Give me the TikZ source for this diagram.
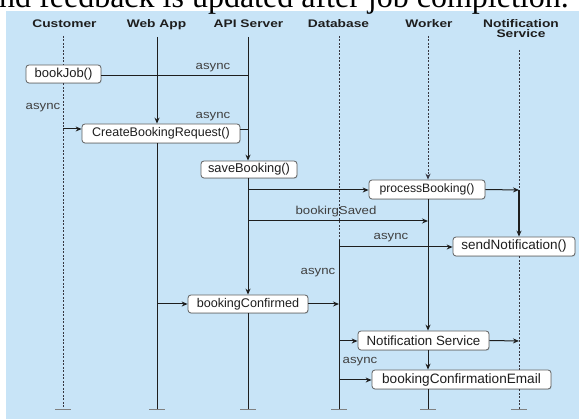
\documentclass[tikz,border=0pt]{standalone}
\usepackage{fontspec}
\setmainfont{Liberation Serif}
\newfontfamily\hdrfont[FakeStretch=1.25]{Liberation Sans}
\newfontfamily\bxfont{Liberation Sans}
\newfontfamily\lblfont[FakeStretch=1.15]{Liberation Sans}
\usetikzlibrary{arrows.meta,shadows}
\definecolor{panel}{RGB}{200,228,247}
\definecolor{ink}{RGB}{30,30,30}
\definecolor{boxline}{RGB}{95,95,95}
\definecolor{dashc}{RGB}{55,55,65}
\newcommand\bxs[1]{\bxfont\fontsize{#1}{#1}\selectfont}
\begin{document}
\begin{tikzpicture}[x=1pt,y=-1pt,
  box/.style={draw=boxline, fill=white, rounded corners=3pt, line width=0.8pt, inner sep=0pt, text=ink,
    drop shadow={opacity=0.2,shadow xshift=0.7pt,shadow yshift=-0.9pt}},
  hdr/.style={font=\hdrfont\bfseries\fontsize{11}{10.5}\selectfont, text=ink, inner sep=0pt, align=center},
  lbl/.style={font=\lblfont\fontsize{11.5}{13}\selectfont, text=ink!85, inner sep=0pt},
  life/.style={draw=ink, line width=1pt},
  dlife/.style={draw=dashc, line width=1pt, dash pattern=on 2pt off 1.5pt},
  ln/.style={draw=ink, line width=1pt},
  msg/.style={draw=ink, line width=1pt, -{Stealth[length=6pt,width=5pt]}},
  tickmark/.style={draw=gray, line width=0.9pt}]
\useasboundingbox (0,0) rectangle (579,419);
\begin{scope}
  \clip (0,0) rectangle (579,419);
  \fill[panel] (6,11) rectangle (579,419);
  \node[anchor=base west, inner sep=0pt, font=\fontsize{32}{36}\selectfont] (cap) at (-1,8) {nd feedback is updated after job completion.};
\end{scope}

% headers
\node[hdr, anchor=base] (hC) at (64.5,28) {Customer};
\node[hdr, anchor=base] (hW) at (156.5,28) {Web App};
\node[hdr, anchor=base] (hA) at (248.5,28) {API Server};
\node[hdr, anchor=base] (hD) at (338.5,28) {Database};
\node[hdr, anchor=base] (hK) at (429,28) {Worker};
\node[hdr, anchor=north] (hN) at (521,19.3) {Notification\\Service};

% lifeline ends
\coordinate (Ct) at (63,36);  \coordinate (Cb) at (63,409);
\coordinate (Wt) at (157,37); \coordinate (Wb) at (157,409);
\coordinate (At) at (248,37); \coordinate (Ab) at (248,409);
\coordinate (Dt) at (339,36); \coordinate (Dm) at (339,240); \coordinate (Db) at (339,409);
\coordinate (Kt) at (428,36); \coordinate (Kb) at (428,409);
\coordinate (Nt) at (519,50); \coordinate (Nb) at (519,409);

% boxes
\node[box, minimum width=75pt, minimum height=18pt, font=\bxs{13}] (BJ) at (63.5,74) {bookJob()};
\node[box, minimum width=158pt, minimum height=19pt, font=\bxs{12.5}] (CBR) at (161,133.5) {CreateBookingRequest()};
\node[box, minimum width=96pt, minimum height=17pt, font=\bxs{12.8}] (SB) at (249,169.5) {saveBooking()};
\node[box, minimum width=116pt, minimum height=19pt, font=\bxs{12.2}] (PB) at (427,189.5) {processBooking()};
\node[box, minimum width=122pt, minimum height=19pt, font=\bxs{13.5}] (SN) at (514,246.5) {sendNotification()};
\node[box, minimum width=120pt, minimum height=18pt, font=\bxs{12.6}] (BC) at (248,304) {bookingConfirmed};
\node[box, minimum width=131pt, minimum height=19pt, font=\bxs{13.3}] (NS) at (423.5,340.5) {Notification Service};
\node[box, minimum width=179pt, minimum height=19pt, font=\bxs{13.6}] (CE) at (461.5,379.5) {bookingConfirmationEmail};

% lifelines
\draw[dlife] (Ct) -- (Ct |- BJ.north);
\draw[dlife] (Ct |- BJ.south) -- (Cb);
\draw[msg] (Wt) -- (Wt |- CBR.north);
\draw[life] (Wt |- CBR.south) -- (Wb);
\draw[msg] (At) -- (At |- SB.north);
\draw[msg] (At |- SB.south) -- (At |- BC.north);
\draw[life] (At |- BC.south) -- (Ab);
\draw[dlife] (Dt) -- (Dm);
\draw[life] (Dm) -- (Db);
\draw[dlife, -{Stealth[length=6pt,width=5pt]}] (Kt) -- (Kt |- PB.north);
\draw[msg] (Kt |- PB.south) -- (Kt |- NS.north);
\draw[msg] (Kt |- NS.south) -- (Kt |- CE.north);
\draw[life] (Kt |- CE.south) -- (Kb);
\coordinate (nJ) at (519,190);
\draw[dlife] (Nt) -- (nJ);
\draw[msg, line width=1.5pt] (nJ) -- (nJ |- SN.north);
\draw[dlife] (Nt |- SN.south) -- (Nt |- CE.north);
\draw[dlife] (Nt |- CE.south) -- (Nb);

% messages
\coordinate (m0e) at (248,76);
\draw[ln] (BJ.east |- m0e) -- (m0e);
\coordinate (m1s) at (63,129);
\draw[msg] (m1s) -- (m1s -| CBR.west);
\coordinate (m2e) at (248,130);
\draw[ln] (CBR.east |- m2e) -- (m2e);
\coordinate (m3s) at (248,190);
\draw[msg] (m3s) -- (m3s -| PB.west);
\draw[msg] (PB.east) -- (nJ);
\coordinate (m4s) at (248,221); \coordinate (m4e) at (428,221);
\draw[msg] (m4s) -- (m4e);
\coordinate (m5s) at (339,247);
\draw[msg] (m5s) -- (m5s -| SN.west);
\coordinate (m6s) at (157,304);
\draw[msg] (m6s) -- (BC.west);
\coordinate (m7e) at (339,304);
\draw[msg] (BC.east) -- (m7e);
\coordinate (m8s) at (339,341);
\draw[msg] (m8s) -- (m8s -| NS.west);
\coordinate (m9e) at (519,341);
\draw[msg] (NS.east) -- (m9e);
\coordinate (m10s) at (339,380);
\draw[msg] (m10s) -- (m10s -| CE.west);

% labels
\node[lbl] (l1) at (213,68) {async};
\node[lbl] (l2) at (43,108) {async};
\node[lbl] (l3) at (213,117) {async};
\node[lbl] (l4) at (336,212) {bookirgSaved};
\node[lbl] (l5) at (391,238) {async};
\node[lbl] (l6) at (318,273) {async};
\node[lbl] (l7) at (360,362) {async};

% bottom ticks
\foreach \p in {Cb,Wb,Ab,Db,Kb,Nb}
  \draw[tickmark] (\p) ++(-8,0) -- ++(16,0);
\end{tikzpicture}
\end{document}
